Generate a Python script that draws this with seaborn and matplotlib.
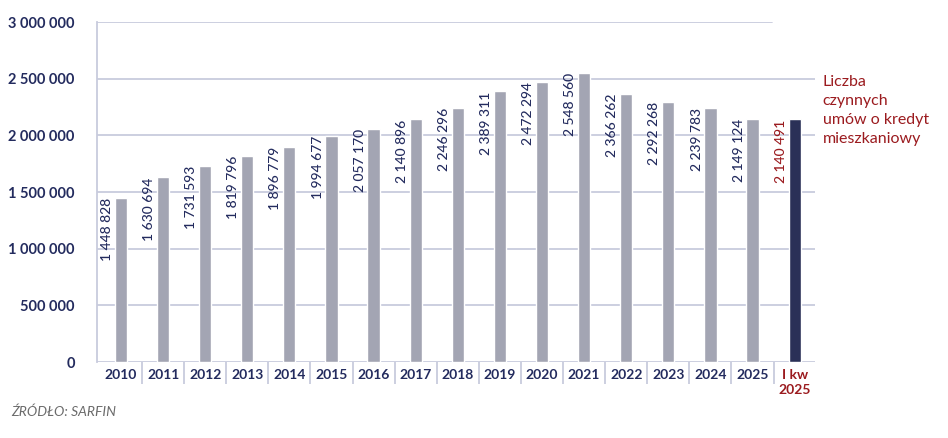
import matplotlib
matplotlib.use("Agg")
import matplotlib.pyplot as plt
import seaborn as sns

# data
categories = ["2010", "2011", "2012", "2013", "2014", "2015", "2016", "2017", "2018",
              "2019", "2020", "2021", "2022", "2023", "2024", "2025", "I kw\n2025"]
values = [1448828, 1630694, 1731593, 1819796, 1896779, 1994677, 2057170, 2140896,
          2246296, 2389311, 2472294, 2548560, 2366262, 2292268, 2239783, 2149124, 2140491]
y_ticks = [0, 500000, 1000000, 1500000, 2000000, 2500000, 3000000]
legend_text = "Liczba\nczynnych\numów o kredyt\nmieszkaniowy"
source_text = "ŹRÓDŁO: SARFIN"

NAVY = "#232b5e"
GREY = "#a0a3b6"
RED = "#9b1b1f"
GRID = "#c8cbdd"

sns.set_style("white")
plt.rcParams["font.family"] = ["Lato", "DejaVu Sans"]


def fmt(v):
    return f"{v:,}".replace(",", " ")


fig = plt.figure(figsize=(9.48, 4.38), dpi=100)
ax = fig.add_axes([0.1023, 0.1735, 0.757, 0.776])

colors = [GREY] * (len(categories) - 1) + [NAVY]
sns.barplot(x=categories, y=values, hue=categories, palette=colors, legend=False,
            width=0.29, ax=ax, zorder=3)

ax.set_ylim(0, 3000000)
ax.set_xlim(-0.57, len(categories) - 1 + 0.475)

# gridlines
for t in y_ticks[:-1]:
    ax.axhline(t, color=GRID, lw=1.3, zorder=1)
ax.axhline(y_ticks[-1], xmax=0.94, color=GRID, lw=1.3, zorder=1)

for s in ["top", "right", "bottom"]:
    ax.spines[s].set_visible(False)
ax.spines["left"].set_color(GRID)
ax.spines["left"].set_linewidth(1.3)

ax.set_yticks(y_ticks)
ax.set_yticklabels([fmt(t) for t in y_ticks], color=NAVY, fontsize=10.5, fontweight="bold")
ax.tick_params(axis="y", length=0, pad=16)
ax.tick_params(axis="x", length=0, pad=5)
ax.set_xticks(range(len(categories)))
ax.set_xticklabels(categories, fontsize=10, fontweight="bold", color=NAVY, linespacing=1.3)
ax.get_xticklabels()[-1].set_color(RED)
ax.set_xlabel("")
ax.set_ylabel("")

# separators under the axis
ax.vlines([i + 0.5 for i in range(len(categories) - 1)], -0.065, 0,
          transform=ax.get_xaxis_transform(), color=GRID, lw=1.3, clip_on=False)

# value labels
for i, v in enumerate(values):
    ax.text(i - 0.33, v, fmt(v), rotation=90, ha="center", va="top",
            fontsize=10, fontweight="medium",
            color=RED if i == len(values) - 1 else NAVY, zorder=4)

fig.text(0.868, 0.828, legend_text, color=RED, fontsize=11.5, va="top", ha="left",
         linespacing=1.45)
fig.text(0.012, 0.05, source_text, color="#6b6b6b", fontsize=10, style="italic")

fig.savefig("out.png", dpi=100)
